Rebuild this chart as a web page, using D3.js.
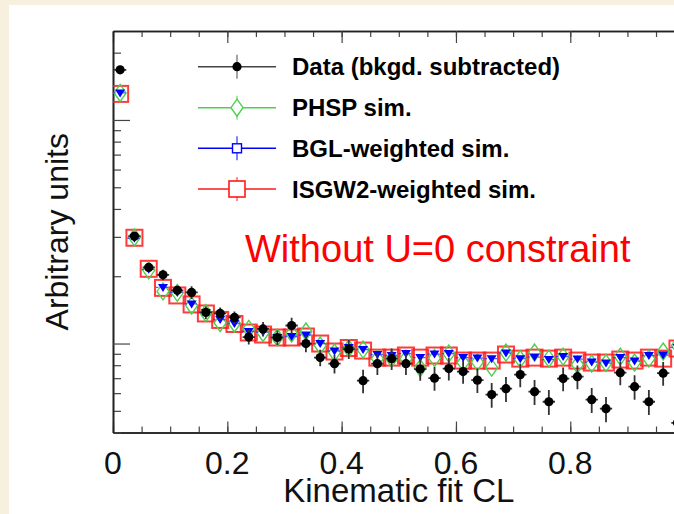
<!DOCTYPE html>
<html><head><meta charset="utf-8">
<script src="https://cdn.jsdelivr.net/npm/d3@7"></script>
<style>
html,body{margin:0;padding:0;background:#f6efdc;}
svg{display:block;}
</style></head>
<body>
<svg id="c" width="674" height="514"></svg>
<script>
// ---- data ----
const nBins = 40;
const binWidth = 0.025;
const binCenters = d3.range(nBins).map(i => (i + 0.5) * binWidth);

const dataVals = [16.76,3.02,2.19,2.03,1.729,1.693,1.377,1.363,1.308,1.069,
  1.162,1.064,1.204,1.0,0.865,0.813,0.945,0.682,0.813,0.856,
  0.813,0.769,0.700,0.773,0.749,0.686,0.591,0.628,0.726,0.609,
  0.549,0.697,0.711,0.561,0.511,0.741,0.641,0.549,0.737,0.442];
const dataErr = [0.25,0.13,0.09,0.11,0.09,0.11,0.088,0.087,0.084,0.08,
  0.087,0.08,0.10,0.086,0.074,0.079,0.092,0.082,0.089,0.095,
  0.09,0.088,0.085,0.09,0.088,0.085,0.075,0.08,0.088,0.078,
  0.07,0.085,0.086,0.072,0.066,0.09,0.08,0.07,0.09,0.06];
const phspVals = [13.21,2.987,2.125,1.711,1.685,1.480,1.370,1.236,1.229,1.162,
  1.115,1.064,1.109,1.132,0.980,0.911,0.950,0.940,0.856,0.856,
  0.856,0.777,0.861,0.902,0.822,0.826,0.780,0.911,0.852,0.911,
  0.856,0.874,0.805,0.813,0.818,0.874,0.822,0.856,0.921,0.980];
const bglVals = [13.21,2.957,2.147,1.783,1.693,1.504,1.377,1.281,1.229,1.132,
  1.126,1.064,1.075,1.092,1.0,0.926,0.960,0.940,0.893,0.884,
  0.902,0.865,0.897,0.902,0.865,0.861,0.856,0.907,0.856,0.870,
  0.848,0.874,0.852,0.826,0.818,0.865,0.835,0.884,0.888,0.960];
const isgwVals = [13.08,2.972,2.159,1.774,1.641,1.496,1.363,1.275,1.223,1.120,
  1.097,1.064,1.064,1.075,1.0,0.921,0.955,0.930,0.865,0.865,
  0.884,0.865,0.884,0.884,0.839,0.839,0.839,0.893,0.856,0.865,
  0.856,0.865,0.839,0.822,0.822,0.848,0.839,0.865,0.856,0.950];

const xMajorTicks = [0, 0.2, 0.4, 0.6, 0.8, 1.0];
const xMinorTicks = d3.range(0, 1.0001, 0.05);
const xLabelTicks = [0, 0.2, 0.4, 0.6, 0.8];
const xTickLabels = ["0", "0.2", "0.4", "0.6", "0.8"];
const yMajorTicks = [1, 10];
const yMinorTicks = [0.4,0.5,0.6,0.7,0.8,0.9,2,3,4,5,6,7,8,9,20];
const legendLabels = ["Data (bkgd. subtracted)", "PHSP sim.", "BGL-weighted sim.", "ISGW2-weighted sim."];

// ---- layout ----
const svg = d3.select("#c");
const FONT = "'Liberation Sans', Arial, Helvetica, sans-serif";
const L = 113, R = 684.6, T = 31, B = 432.5;
const x = d3.scaleLinear().domain([0, 1]).range([L, R]);
const y = d3.scaleLog().domain([0.4, 25]).range([B, T]);

const defs = svg.append("defs");
const cp = defs.append("clipPath").attr("id", "plotclip");
cp.append("rect").attr("x", L).attr("y", T).attr("width", R - L).attr("height", B - T);
svg.append("rect").attr("width", 674).attr("height", 514).attr("fill", "#f7f0de");
svg.append("rect").attr("x", 9).attr("y", 5).attr("width", 665).attr("height", 509).attr("fill", "#ffffff");

// axes
const axisCol = "#222";
function styleAxis(g) {
  g.select(".domain").attr("stroke", axisCol).attr("stroke-width", 1.6);
  g.selectAll(".tick line").attr("stroke", "#444").attr("stroke-width", 1.2);
  g.selectAll(".tick text").remove();
}
svg.append("g").attr("transform", `translate(0,${B})`)
  .call(d3.axisBottom(x).tickValues(xMinorTicks).tickSizeInner(-6).tickSizeOuter(0).tickFormat(""))
  .call(styleAxis);
svg.append("g").attr("transform", `translate(0,${B})`)
  .call(d3.axisBottom(x).tickValues(xMajorTicks).tickSizeInner(-11).tickSizeOuter(0).tickFormat(""))
  .call(styleAxis);
svg.append("g").attr("transform", `translate(0,${T})`)
  .call(d3.axisTop(x).tickValues(xMinorTicks).tickSizeInner(-6).tickSizeOuter(0).tickFormat(""))
  .call(styleAxis);
svg.append("g").attr("transform", `translate(0,${T})`)
  .call(d3.axisTop(x).tickValues(xMajorTicks).tickSizeInner(-12).tickSizeOuter(0).tickFormat(""))
  .call(styleAxis);
svg.append("g").attr("transform", `translate(${L},0)`)
  .call(d3.axisLeft(y).tickValues(yMinorTicks).tickSizeInner(-8).tickSizeOuter(0).tickFormat(""))
  .call(styleAxis);
svg.append("g").attr("transform", `translate(${L},0)`)
  .call(d3.axisLeft(y).tickValues(yMajorTicks).tickSizeInner(-17).tickSizeOuter(0).tickFormat(""))
  .call(styleAxis);

// x tick labels
svg.append("g").selectAll("text").data(xLabelTicks).join("text")
  .attr("x", d => x(d)).attr("y", 474)
  .attr("text-anchor", "middle").attr("font-family", FONT).attr("font-size", 32)
  .attr("fill", "#111").text((d, i) => xTickLabels[i]);

// axis titles
svg.append("text").attr("x", (L + R) / 2).attr("y", 502)
  .attr("text-anchor", "middle").attr("font-family", FONT).attr("font-size", 33)
  .attr("fill", "#111").text("Kinematic fit CL");
svg.append("text").attr("transform", `translate(68,${(T + B) / 2}) rotate(-90)`)
  .attr("text-anchor", "middle").attr("font-family", FONT).attr("font-size", 32)
  .attr("fill", "#111").text("Arbitrary units");

// ---- marks ----
const plot = svg.append("g").attr("clip-path", "url(#plotclip)");
const halfBinPx = (x(binWidth) - x(0)) / 2;

const red = "#ff1a1a";
plot.append("g").selectAll("rect").data(isgwVals).join("rect")
  .attr("x", (d, i) => x(binCenters[i]) - 8).attr("y", d => y(d) - 8)
  .attr("width", 16).attr("height", 16)
  .attr("fill", "none").attr("stroke", red).attr("stroke-width", 2).attr("stroke-opacity", 0.85);

const green = "#4fcf4f";
plot.append("g").selectAll("path").data(phspVals).join("path")
  .attr("d", (d, i) => {
    const cx = x(binCenters[i]), cy = y(d);
    return `M${cx},${cy - 8.5}L${cx + 6},${cy}L${cx},${cy + 8.5}L${cx - 6},${cy}Z`;
  })
  .attr("fill", "none").attr("stroke", green).attr("stroke-width", 1.4);

const blue = "#0000ff";
plot.append("g").selectAll("line").data(bglVals).join("line")
  .attr("x1", (d, i) => x(binCenters[i]) - halfBinPx).attr("x2", (d, i) => x(binCenters[i]) + halfBinPx)
  .attr("y1", d => y(d)).attr("y2", d => y(d))
  .attr("stroke", "#3333ff").attr("stroke-width", 1.3).attr("stroke-dasharray", "2.5,2.5").attr("stroke-opacity", 0.8);
plot.append("g").selectAll("path").data(bglVals).join("path")
  .attr("d", (d, i) => {
    const cx = x(binCenters[i]), cy = y(d);
    return `M${cx - 5},${cy - 3.5}L${cx + 5},${cy - 3.5}L${cx},${cy + 4.5}Z`;
  })
  .attr("fill", blue);

const dg = plot.append("g");
dg.selectAll("line.v").data(dataVals).join("line").attr("class", "v")
  .attr("x1", (d, i) => x(binCenters[i])).attr("x2", (d, i) => x(binCenters[i]))
  .attr("y1", (d, i) => y(d + dataErr[i])).attr("y2", (d, i) => y(Math.max(d - dataErr[i], 0.01)))
  .attr("stroke", "#333").attr("stroke-width", 1.8);
dg.selectAll("line.h").data(dataVals).join("line").attr("class", "h")
  .attr("x1", (d, i) => x(binCenters[i]) - halfBinPx + 1).attr("x2", (d, i) => x(binCenters[i]) + halfBinPx - 1)
  .attr("y1", d => y(d)).attr("y2", d => y(d))
  .attr("stroke", "#333").attr("stroke-width", 1.8);
dg.selectAll("circle").data(dataVals).join("circle")
  .attr("cx", (d, i) => x(binCenters[i])).attr("cy", d => y(d)).attr("r", 4.6)
  .attr("fill", "#000");

// ---- legend ----
const leg = svg.append("g");
const legY = [66.7, 107.7, 148.3, 189];
const lx1 = 198, lx2 = 276, lmx = 237;
const legCols = ["#444", green, blue, red];
legY.forEach((ly, i) => {
  leg.append("line").attr("x1", lx1).attr("x2", lx2).attr("y1", ly).attr("y2", ly)
    .attr("stroke", legCols[i]).attr("stroke-width", 1.4);
  leg.append("line").attr("x1", lmx).attr("x2", lmx).attr("y1", ly - 12).attr("y2", ly + 12)
    .attr("stroke", legCols[i]).attr("stroke-width", 1.4).attr("stroke-opacity", 0.7);
  leg.append("text").attr("x", 292).attr("y", ly + 8.6)
    .attr("font-family", FONT).attr("font-weight", "bold").attr("font-size", 24)
    .attr("fill", "#000").text(legendLabels[i]);
});
leg.append("circle").attr("cx", lmx).attr("cy", legY[0]).attr("r", 4.6).attr("fill", "#000");
leg.append("path").attr("d", `M${lmx},${legY[1] - 8.5}L${lmx + 6},${legY[1]}L${lmx},${legY[1] + 8.5}L${lmx - 6},${legY[1]}Z`)
  .attr("fill", "#fff").attr("stroke", green).attr("stroke-width", 1.4);
leg.append("rect").attr("x", lmx - 4.5).attr("y", legY[2] - 4.5).attr("width", 9).attr("height", 9)
  .attr("fill", "#fff").attr("stroke", blue).attr("stroke-width", 1.4);
leg.append("rect").attr("x", lmx - 8).attr("y", legY[3] - 8).attr("width", 16).attr("height", 16)
  .attr("fill", "#fff").attr("stroke", red).attr("stroke-width", 1.6);

// annotation
svg.append("text").attr("x", 245).attr("y", 262)
  .attr("font-family", FONT).attr("font-size", 38).attr("fill", "#ff0000")
  .text("Without U=0 constraint");
</script>
</body></html>
